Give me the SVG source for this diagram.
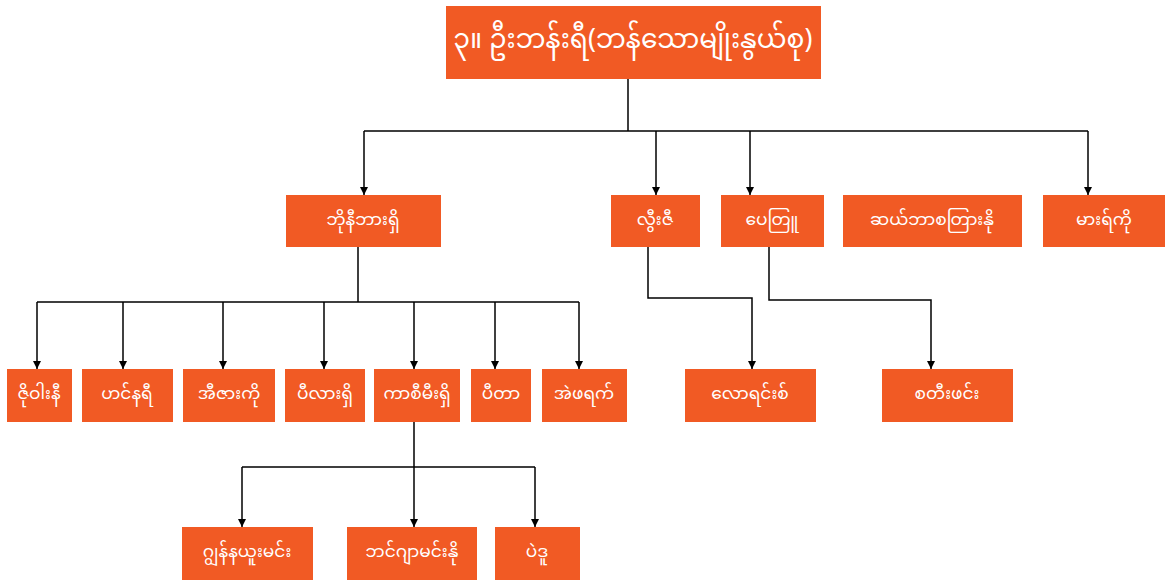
<svg xmlns="http://www.w3.org/2000/svg" width="1170" height="580" viewBox="0 0 1170 580">
<defs>
<marker id="arr" viewBox="0 0 10 10" refX="10" refY="5" markerWidth="9" markerHeight="8" markerUnits="userSpaceOnUse" orient="auto">
<path d="M0,0 L10,5 L0,10 z" fill="#000"/>
</marker>
<style>
.box{fill:#F15A24;}
.t{fill:#fff;font-family:"Noto Sans Myanmar","Padauk","Myanmar Text","Noto Sans",sans-serif;font-size:17px;text-anchor:middle;dominant-baseline:central;}
.tt{font-size:26.5px;}
.c{fill:none;stroke:#000;stroke-width:1.5;}
.a{marker-end:url(#arr);}
</style>
</defs>
<rect width="1170" height="580" fill="#fff"/>
<g id="connectors">
<path class="c" d="M628,79 V131 M364,131 H1088"/>
<path class="c a" d="M364,131 V195"/>
<path class="c a" d="M656,131 V195"/>
<path class="c a" d="M750,131 V195"/>
<path class="c a" d="M1088,131 V195"/>
<path class="c" d="M358,247 V302 M37,302 H579"/>
<path class="c a" d="M37,302 V369"/>
<path class="c a" d="M123,302 V369"/>
<path class="c a" d="M223,302 V369"/>
<path class="c a" d="M324,302 V369"/>
<path class="c a" d="M414,302 V369"/>
<path class="c a" d="M495,302 V369"/>
<path class="c a" d="M579,302 V369"/>
<path class="c a" d="M648,247 V298 H752 V369"/>
<path class="c a" d="M769,247 V300 H931 V369"/>
<path class="c" d="M414,422 V467 M242,467 H535"/>
<path class="c a" d="M242,467 V527"/>
<path class="c a" d="M414,467 V527"/>
<path class="c a" d="M535,467 V527"/>
</g>
<g id="root"><rect class="box" x="446" y="6" width="375" height="73"/><text class="t tt" x="633" y="42">၃။ ဦးဘန်းရီ(ဘန်သောမျိုးနွယ်စု)</text></g>
<g id="n1"><rect class="box" x="286" y="195" width="155" height="52"/><text class="t" x="363" y="221">ဘိုနီဘားရှိ</text></g>
<g id="n2"><rect class="box" x="611" y="195" width="89" height="52"/><text class="t" x="655" y="221">လွီးဇီ</text></g>
<g id="n3"><rect class="box" x="721" y="195" width="103" height="52"/><text class="t" x="772" y="221">ပေတြူ</text></g>
<g id="n4"><rect class="box" x="843" y="195" width="179" height="52"/><text class="t" x="932" y="221">ဆယ်ဘာစတြားနို</text></g>
<g id="n5"><rect class="box" x="1043" y="195" width="122" height="52"/><text class="t" x="1104" y="221">မားရ်ကို</text></g>
<g id="n6"><rect class="box" x="7" y="369" width="65" height="53"/><text class="t" x="39" y="395">ဇိုဝါးနီ</text></g>
<g id="n7"><rect class="box" x="82" y="369" width="91" height="53"/><text class="t" x="127" y="395">ဟင်နရီ</text></g>
<g id="n8"><rect class="box" x="183" y="369" width="92" height="53"/><text class="t" x="229" y="395">အီဇားကို</text></g>
<g id="n9"><rect class="box" x="285" y="369" width="80" height="53"/><text class="t" x="325" y="395">ပီလားရှိ</text></g>
<g id="n10"><rect class="box" x="374" y="369" width="86" height="53"/><text class="t" x="417" y="395">ကာစီမီးရှိ</text></g>
<g id="n11"><rect class="box" x="471" y="369" width="60" height="53"/><text class="t" x="501" y="395">ပီတာ</text></g>
<g id="n12"><rect class="box" x="542" y="369" width="85" height="53"/><text class="t" x="584" y="395">အဲဖရက်</text></g>
<g id="n13"><rect class="box" x="685" y="369" width="131" height="53"/><text class="t" x="750" y="395">လောရင်းစ်</text></g>
<g id="n14"><rect class="box" x="882" y="369" width="131" height="53"/><text class="t" x="947" y="395">စတီးဖင်း</text></g>
<g id="n15"><rect class="box" x="182" y="527" width="131" height="53"/><text class="t" x="247" y="553">ဂျွန်နယူးမင်း</text></g>
<g id="n16"><rect class="box" x="347" y="527" width="130" height="53"/><text class="t" x="412" y="553">ဘင်ဂျာမင်းနို</text></g>
<g id="n17"><rect class="box" x="495" y="527" width="85" height="53"/><text class="t" x="537" y="553">ပဲဒူ</text></g>
</svg>
